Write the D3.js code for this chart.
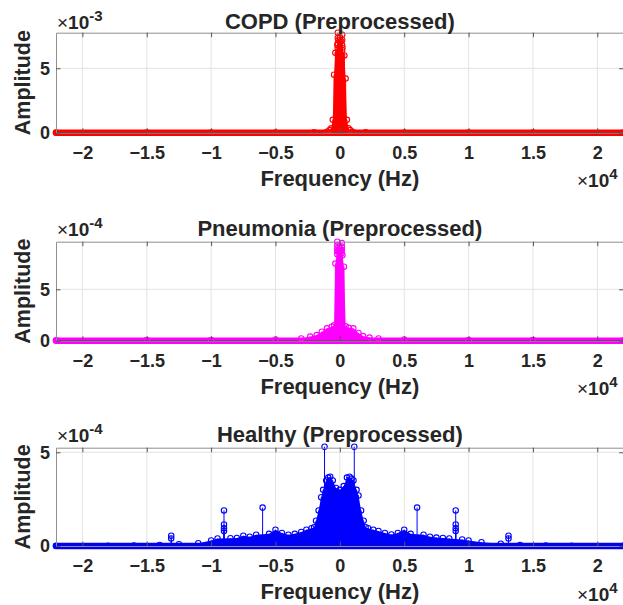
<!DOCTYPE html>
<html lang="en">
<head>
<meta charset="UTF-8">
<title>Preprocessed spectra</title>
<script src="https://d3js.org/d3.v7.min.js"></script>
<style>
  body { margin: 0; background: #fff; }
  svg text { font-family: "Liberation Sans", Arial, sans-serif; fill: #262626; }
</style>
</head>
<body>
<div id="chart"></div>
<script>
// frequency in units of 1e4 Hz, amplitude in units of the panel exponent
const xTicks = [-2, -1.5, -1, -0.5, 0, 0.5, 1, 1.5, 2];
const titles = ["COPD (Preprocessed)", "Pneumonia (Preprocessed)", "Healthy (Preprocessed)"];
const colors = ["#ff0000", "#ff00ff", "#0000ff"];
const exponents = ["-3", "-4", "-4"];
const yMax = [7.76, 9.63, 5.245];
const yTicks = [0, 5];

// dense part of each spectrum: [freq, amplitude]
const copdEnvelope = [[-2.205, 0.01], [-1.5, 0.01], [-1, 0.01], [-0.5, 0.02], [-0.2, 0.03], [-0.1, 0.08],
  [-0.08, 0.2], [-0.067, 0.34], [-0.055, 1.0], [-0.045, 4.5], [-0.035, 6.2], [-0.02, 6.8], [-0.01, 7.2], [0, 7.4],
  [0.01, 7.1], [0.02, 6.6], [0.035, 6.0], [0.045, 4.2], [0.055, 1.0], [0.067, 0.34], [0.08, 0.2], [0.1, 0.08],
  [0.2, 0.03], [0.5, 0.02], [1, 0.01], [1.5, 0.01], [2.205, 0.01]];
const pneuEnvelope = [[-2.205, 0.05], [-1.5, 0.06], [-1, 0.08], [-0.5, 0.12], [-0.3, 0.22], [-0.23, 0.4],
  [-0.18, 0.55], [-0.14, 0.88], [-0.1, 1.2], [-0.063, 1.36], [-0.045, 1.5], [-0.035, 7.5], [-0.02, 8.4],
  [-0.01, 8.8], [0, 9.0], [0.01, 8.7], [0.02, 8.3], [0.032, 7.2], [0.045, 1.4], [0.07, 1.25], [0.105, 1.2],
  [0.145, 0.75], [0.18, 0.45], [0.23, 0.3], [0.3, 0.22], [0.5, 0.12], [1, 0.08], [1.5, 0.06], [2.205, 0.05]];
const healthyEnvelope = [[-2.205, 0.01], [-1.8, 0.02], [-1.6, 0.03], [-1.4, 0.06], [-1.25, 0.1], [-1.1, 0.15],
  [-1, 0.3], [-0.95, 0.4], [-0.85, 0.42], [-0.8, 0.43], [-0.75, 0.55], [-0.7, 0.5], [-0.65, 0.6],
  [-0.55, 0.65], [-0.5, 0.87], [-0.45, 0.7], [-0.4, 0.6], [-0.35, 0.65], [-0.3, 0.75], [-0.26, 0.87],
  [-0.22, 0.95], [-0.2, 1.0], [-0.185, 1.35], [-0.165, 1.9], [-0.145, 2.6], [-0.13, 3.0], [-0.106, 3.5],
  [-0.09, 3.65], [-0.075, 3.7], [-0.055, 3.5], [-0.03, 3.1], [0, 3.0], [0.03, 3.2], [0.055, 3.65],
  [0.075, 3.7], [0.09, 3.6], [0.106, 3.5], [0.13, 3.0], [0.145, 2.7], [0.165, 1.9], [0.185, 1.35],
  [0.2, 1.0], [0.22, 0.95], [0.26, 0.87], [0.3, 0.8], [0.35, 0.7], [0.4, 0.62], [0.45, 0.7], [0.5, 0.87],
  [0.55, 0.65], [0.65, 0.6], [0.7, 0.5], [0.75, 0.45], [0.8, 0.43], [0.85, 0.4], [0.95, 0.35], [1, 0.3],
  [1.1, 0.2], [1.25, 0.12], [1.4, 0.06], [1.6, 0.03], [1.8, 0.02], [2.205, 0.01]];

// stems that stand out above the dense part
const copdPeaks = [[-0.016, 7.76], [-0.016, 7.35], [-0.016, 6.95], [-0.016, 6.55], [-0.016, 6.15],
  [0.018, 7.6], [0.018, 7.2], [0.018, 6.8], [0.018, 6.4], [0.018, 6.0]];
const pneuPeaks = [[-0.02, 9.63], [-0.02, 9.3], [-0.02, 9.0], [-0.02, 8.7],
  [0.015, 9.5], [0.015, 9.15], [0.015, 8.85], [0.015, 8.5]];
const healthyPeaks = [[-1.31, 0.55], [-1.31, 0.4], [-0.9, 1.9], [-0.9, 1.15], [-0.9, 0.95], [-0.9, 0.8],
  [-0.6, 2.05], [-0.119, 5.3], [0.112, 5.3], [0.6, 2.05], [0.9, 1.9], [0.9, 1.15], [0.9, 0.95],
  [0.9, 0.8], [1.31, 0.55], [1.31, 0.4]];

const envelopes = [copdEnvelope, pneuEnvelope, healthyEnvelope];
const peaks = [copdPeaks, pneuPeaks, healthyPeaks];

// layout
const W = 623, H = 605;
const left = 56, right = 623.7;
const panels = [{top: 32.7, bottom: 132.7, titleOff: 3.3},
                {top: 241.7, bottom: 340.7, titleOff: 5.7},
                {top: 447.7, bottom: 546, titleOff: 5.3}];

const svg = d3.select("#chart").append("svg")
    .attr("width", W)
    .attr("height", H);

panels.forEach((p, i) => {
    const color = colors[i];
    const x = d3.scaleLinear().domain([-2.205, 2.205]).range([left, right]);
    const y = d3.scaleLinear().domain([0, yMax[i]]).range([p.bottom, p.top]);
    const g = svg.append("g");

    // grid
    g.selectAll(".vgrid").data(xTicks).join("line")
        .attr("x1", d => x(d)).attr("x2", d => x(d))
        .attr("y1", p.top).attr("y2", p.bottom)
        .attr("stroke", "#e3e3e3").attr("stroke-width", 1);
    g.selectAll(".hgrid").data(yTicks).join("line")
        .attr("x1", left).attr("x2", right)
        .attr("y1", d => y(d)).attr("y2", d => y(d))
        .attr("stroke", "#e3e3e3").attr("stroke-width", 1);

    // dense stems as a filled envelope
    g.append("path")
        .datum(envelopes[i])
        .attr("fill", color)
        .attr("d", d3.area()
            .x(d => x(d[0]))
            .y0(y(0))
            .y1(d => y(d[1])));

    const all = envelopes[i].concat(peaks[i]);

    // stems
    g.selectAll(".stem").data(all).join("line")
        .attr("x1", d => x(d[0])).attr("x2", d => x(d[0]))
        .attr("y1", y(0)).attr("y2", d => y(d[1]))
        .attr("stroke", color).attr("stroke-width", 1);

    // zero-level markers form a band
    g.append("line")
        .attr("x1", x(-2.205)).attr("x2", x(2.205))
        .attr("y1", y(0)).attr("y2", y(0))
        .attr("stroke", color).attr("stroke-width", 6.5)
        .attr("stroke-linecap", "round");
    g.append("line")
        .attr("x1", x(-2.205)).attr("x2", x(2.205))
        .attr("y1", y(0)).attr("y2", y(0))
        .attr("stroke", "#262626").attr("stroke-opacity", 0.7).attr("stroke-width", 1);

    // markers
    g.selectAll(".mark").data(all).join("circle")
        .attr("cx", d => x(d[0])).attr("cy", d => y(d[1]))
        .attr("r", 2.7)
        .attr("fill", "none")
        .attr("stroke", color).attr("stroke-width", 1.1);

    // axes (inward ticks, box)
    const axCol = "#8f8f8f";
    const bottomAx = g.append("g")
        .attr("transform", `translate(0,${p.bottom})`)
        .call(d3.axisBottom(x).tickValues(xTicks).tickSize(-4.5).tickSizeOuter(0)
            .tickFormat(d3.format("")));
    bottomAx.selectAll("text")
        .attr("y", 26).attr("dy", null)
        .style("font-size", "18px").style("font-weight", "bold")
        .attr("fill", "#262626");
    g.append("g")
        .attr("transform", `translate(0,${p.top})`)
        .call(d3.axisTop(x).tickValues(xTicks).tickSize(-4.5).tickSizeOuter(0).tickFormat(""));
    const leftAx = g.append("g")
        .attr("transform", `translate(${left},0)`)
        .call(d3.axisLeft(y).tickValues(yTicks).tickSize(-4.5).tickSizeOuter(0)
            .tickFormat(d3.format("")).tickPadding(6));
    leftAx.selectAll("text")
        .style("font-size", "18px").style("font-weight", "bold")
        .attr("fill", "#262626");
    g.append("g")
        .attr("transform", `translate(${right},0)`)
        .call(d3.axisRight(y).tickValues(yTicks).tickSize(-4.5).tickSizeOuter(0).tickFormat(""));
    g.selectAll(".domain").attr("stroke", axCol);
    g.selectAll(".tick line").attr("stroke", "#555");

    // title
    g.append("text")
        .attr("x", (left + right) / 2)
        .attr("y", p.top - p.titleOff)
        .attr("text-anchor", "middle")
        .style("font-size", "22px").style("font-weight", "bold")
        .text(titles[i]);

    // y exponent
    const ex = g.append("text")
        .attr("x", 57)
        .attr("y", p.top - p.titleOff)
        .style("font-size", "19px");
    ex.append("tspan").text("\u00d7");
    ex.append("tspan").style("font-weight", "bold").text("10");
    ex.append("tspan").attr("dy", -8).style("font-size", "15px").style("font-weight", "bold").text(exponents[i]);

    // x exponent
    const ex2 = g.append("text")
        .attr("x", 577)
        .attr("y", p.bottom + 54.6)
        .style("font-size", "19px");
    ex2.append("tspan").text("\u00d7");
    ex2.append("tspan").style("font-weight", "bold").text("10");
    ex2.append("tspan").attr("dy", -8).style("font-size", "15px").style("font-weight", "bold").text("4");

    // axis labels
    g.append("text")
        .attr("x", (left + right) / 2)
        .attr("y", p.bottom + 53)
        .attr("text-anchor", "middle")
        .style("font-size", "22px").style("font-weight", "bold")
        .text("Frequency (Hz)");
    g.append("text")
        .attr("transform", `translate(30,${(p.top + p.bottom) / 2}) rotate(-90)`)
        .attr("text-anchor", "middle")
        .style("font-size", "21.5px").style("font-weight", "bold")
        .text("Amplitude");
});
</script>
</body>
</html>
